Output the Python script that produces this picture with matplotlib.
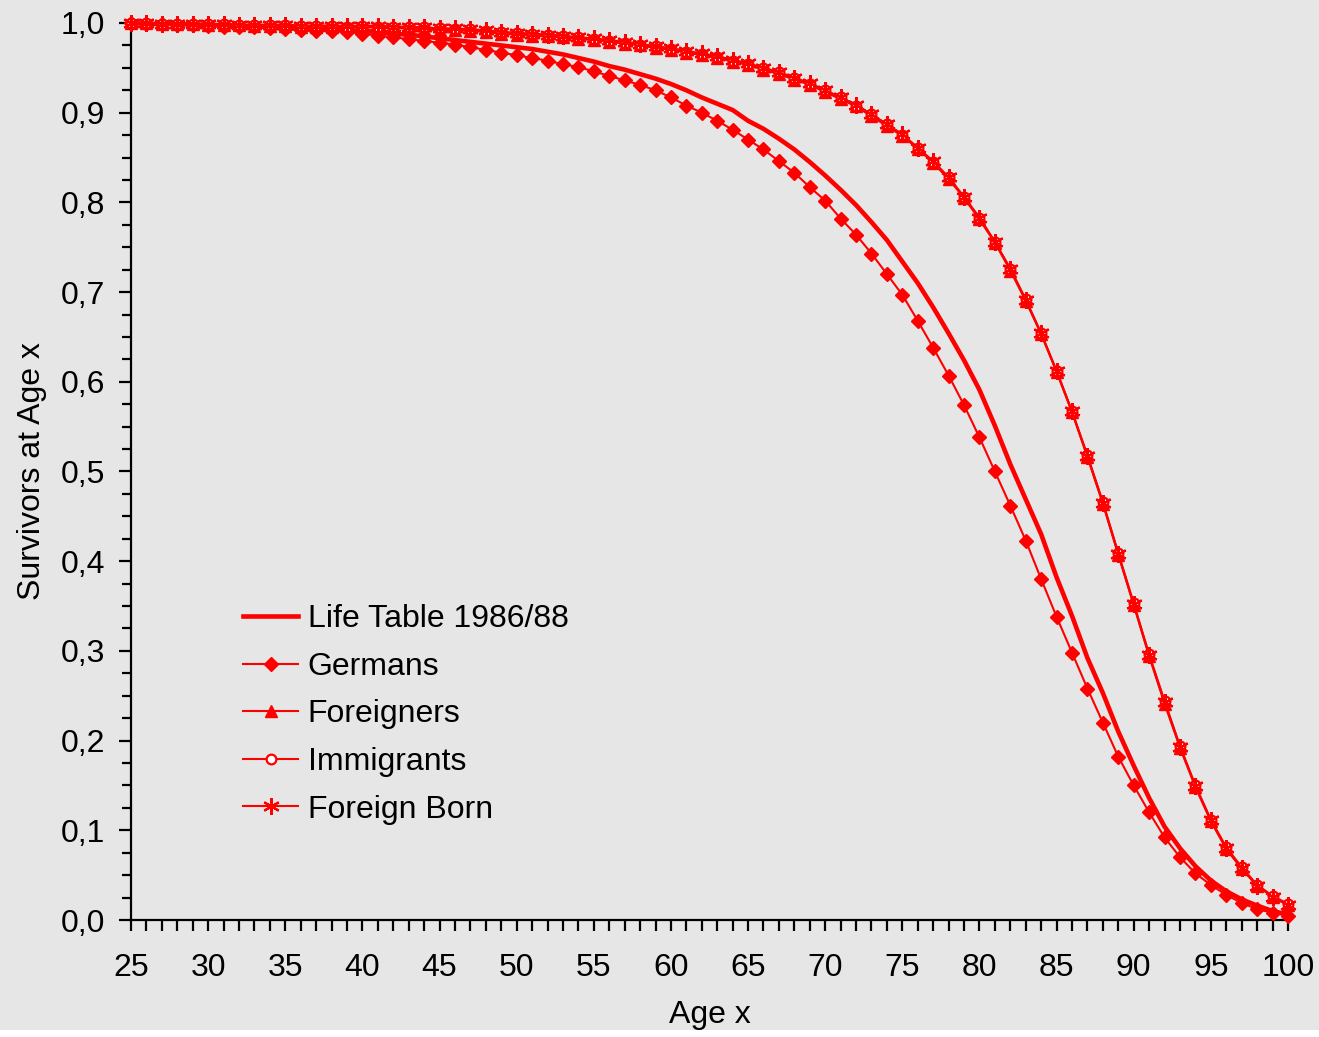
import matplotlib
matplotlib.use("Agg")
import matplotlib.pyplot as plt
from matplotlib.patches import Rectangle
from matplotlib.ticker import MultipleLocator

plt.rcParams['font.family'] = ['Liberation Sans', 'DejaVu Sans']

# ages 25..100
ages = list(range(25, 101))

life_table = [1.000, 0.999, 0.999, 0.999, 0.998, 0.998, 0.997, 0.997, 0.996, 0.996,
              0.995, 0.994, 0.994, 0.993, 0.992, 0.991, 0.990, 0.988, 0.987, 0.985,
              0.983, 0.981, 0.979, 0.977, 0.975, 0.973, 0.971, 0.968, 0.965, 0.961,
              0.957, 0.952, 0.948, 0.943, 0.938, 0.932, 0.925, 0.917, 0.910, 0.903,
              0.891, 0.882, 0.871, 0.859, 0.845, 0.830, 0.814, 0.797, 0.778, 0.758,
              0.734, 0.710, 0.683, 0.654, 0.624, 0.591, 0.551, 0.508, 0.469, 0.430,
              0.382, 0.339, 0.292, 0.253, 0.210, 0.172, 0.136, 0.104, 0.080, 0.060,
              0.044, 0.032, 0.023, 0.016, 0.010, 0.006]

germans = [1.000, 0.999, 0.999, 0.998, 0.998, 0.997, 0.996, 0.995, 0.995, 0.994,
           0.993, 0.992, 0.991, 0.991, 0.990, 0.988, 0.986, 0.984, 0.982, 0.980,
           0.978, 0.976, 0.973, 0.970, 0.967, 0.964, 0.961, 0.958, 0.954, 0.951,
           0.946, 0.941, 0.936, 0.931, 0.925, 0.917, 0.908, 0.900, 0.891, 0.881,
           0.870, 0.859, 0.846, 0.833, 0.817, 0.802, 0.782, 0.764, 0.743, 0.720,
           0.697, 0.668, 0.638, 0.607, 0.574, 0.538, 0.500, 0.462, 0.423, 0.380,
           0.338, 0.298, 0.258, 0.220, 0.182, 0.150, 0.120, 0.092, 0.070, 0.052,
           0.039, 0.028, 0.019, 0.012, 0.008, 0.005]

foreigners = [1.000, 1.000, 0.999, 0.999, 0.999, 0.998, 0.998, 0.998, 0.997, 0.997,
              0.997, 0.996, 0.996, 0.996, 0.995, 0.995, 0.995, 0.994, 0.994, 0.993,
              0.992, 0.992, 0.991, 0.990, 0.988, 0.987, 0.986, 0.985, 0.984, 0.982,
              0.981, 0.979, 0.977, 0.975, 0.972, 0.970, 0.967, 0.964, 0.961, 0.957,
              0.953, 0.948, 0.943, 0.937, 0.931, 0.923, 0.915, 0.907, 0.896, 0.885,
              0.874, 0.860, 0.844, 0.826, 0.805, 0.781, 0.755, 0.724, 0.690, 0.653,
              0.611, 0.566, 0.516, 0.464, 0.407, 0.351, 0.294, 0.241, 0.192, 0.148,
              0.110, 0.079, 0.057, 0.038, 0.026, 0.017]

immigrants = [1.000, 1.000, 0.999, 0.999, 0.999, 0.999, 0.999, 0.998, 0.998, 0.998,
              0.998, 0.997, 0.997, 0.997, 0.996, 0.997, 0.996, 0.996, 0.995, 0.995,
              0.994, 0.993, 0.993, 0.991, 0.990, 0.989, 0.988, 0.987, 0.985, 0.984,
              0.982, 0.980, 0.978, 0.976, 0.974, 0.971, 0.968, 0.965, 0.962, 0.958,
              0.954, 0.950, 0.945, 0.939, 0.932, 0.925, 0.917, 0.908, 0.898, 0.887,
              0.875, 0.861, 0.845, 0.828, 0.806, 0.783, 0.756, 0.726, 0.692, 0.654,
              0.612, 0.567, 0.518, 0.466, 0.409, 0.353, 0.296, 0.244, 0.194, 0.150,
              0.112, 0.081, 0.059, 0.039, 0.027, 0.018]

foreign_born = [1.000, 1.000, 0.999, 0.999, 0.999, 0.999, 0.999, 0.998, 0.998, 0.998,
                0.998, 0.997, 0.997, 0.997, 0.997, 0.997, 0.997, 0.996, 0.996, 0.995,
                0.994, 0.994, 0.993, 0.992, 0.990, 0.989, 0.988, 0.987, 0.986, 0.984,
                0.983, 0.981, 0.979, 0.977, 0.974, 0.972, 0.969, 0.966, 0.963, 0.959,
                0.955, 0.950, 0.945, 0.939, 0.933, 0.925, 0.917, 0.909, 0.898, 0.887,
                0.876, 0.861, 0.846, 0.828, 0.806, 0.783, 0.756, 0.726, 0.691, 0.654,
                0.612, 0.567, 0.517, 0.465, 0.408, 0.352, 0.295, 0.243, 0.193, 0.149,
                0.111, 0.080, 0.058, 0.038, 0.026, 0.017]

x_ticks = list(range(25, 101, 5))
y_ticks = [0.0, 0.1, 0.2, 0.3, 0.4, 0.5, 0.6, 0.7, 0.8, 0.9, 1.0]
y_tick_labels = ['0,0', '0,1', '0,2', '0,3', '0,4', '0,5', '0,6', '0,7', '0,8', '0,9', '1,0']

red = '#ff0000'
bg = '#e6e6e6'
fs = 23

fig = plt.figure(figsize=(13.19, 10.37), dpi=100, facecolor=bg)
ax = fig.add_axes([131 / 1319, 1 - 920 / 1037, 1157 / 1319, 897 / 1037])
ax.set_facecolor(bg)

ax.plot(ages, life_table, color=red, lw=3.3, label='Life Table 1986/88', zorder=3, clip_on=False)
ax.plot(ages, germans, color=red, lw=1.5, marker='D', ms=7.5, mec=red, mfc=red,
        label='Germans', zorder=4, clip_on=False)
ax.plot(ages, foreigners, color=red, lw=1.5, marker='^', ms=9, mec=red, mfc=red,
        label='Foreigners', zorder=4, clip_on=False)
ax.plot(ages, immigrants, color=red, lw=1.5, marker='o', ms=7, mec=red, mfc='white',
        mew=1.6, label='Immigrants', zorder=5, clip_on=False)
ax.plot(ages, foreign_born, color=red, lw=1.5, marker=(6, 2, 0), ms=12, mec=red,
        mew=1.6, label='Foreign Born', zorder=6, clip_on=False)

ax.set_xlim(25, 100)
ax.set_ylim(0, 1.0)
ax.set_xticks(x_ticks)
ax.set_xticklabels([str(t) for t in x_ticks])
ax.set_yticks(y_ticks)
ax.set_yticklabels(y_tick_labels)
ax.xaxis.set_minor_locator(MultipleLocator(1))
ax.yaxis.set_minor_locator(MultipleLocator(0.025))

for side in ['top', 'right']:
    ax.spines[side].set_visible(False)
for side in ['left', 'bottom']:
    ax.spines[side].set_linewidth(1.6)
    ax.spines[side].set_color('black')

ax.tick_params(axis='both', which='both', direction='out', color='black', width=1.6)
ax.tick_params(axis='x', which='both', length=8, labelsize=fs, pad=16)
ax.tick_params(axis='y', which='major', length=8.5, labelsize=fs, pad=10)
ax.tick_params(axis='y', which='minor', length=6.5)

ax.set_xlabel('Age x', fontsize=fs, labelpad=12)
ax.set_ylabel('Survivors at Age x', fontsize=fs, labelpad=10)

leg = ax.legend(loc='upper left', bbox_to_anchor=(0.097, 0.352), frameon=False,
                fontsize=fs, handlelength=1.72, handletextpad=0.3,
                labelspacing=0.55, borderaxespad=0, borderpad=0)

# white strip at very bottom edge as in the source image
fig.patches.append(Rectangle((0, 0), 1, 7 / 1037, transform=fig.transFigure,
                             facecolor='white', edgecolor='none', zorder=10))

fig.savefig('out.png', dpi=100, facecolor=bg)
